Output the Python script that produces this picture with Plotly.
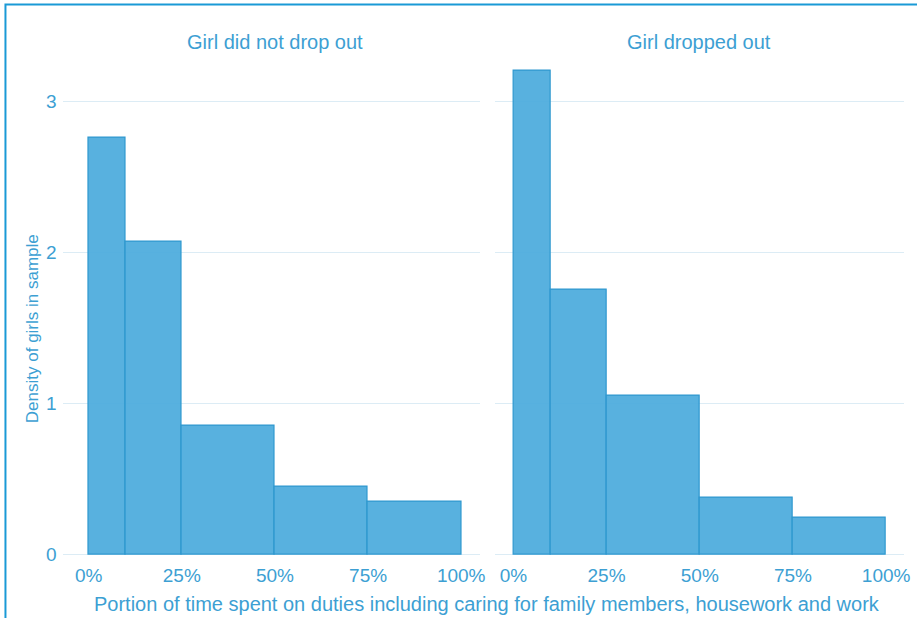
import plotly.graph_objects as go

bin_edges = [0.0, 0.10, 0.25, 0.50, 0.75, 1.00]
density_not_dropped = [2.76, 2.07, 0.85, 0.45, 0.35]
density_dropped = [3.20, 1.75, 1.05, 0.375, 0.245]
panel_titles = ["Girl did not drop out", "Girl dropped out"]
x_tick_vals = [0, 0.25, 0.5, 0.75, 1.0]
x_tick_text = ["0%", "25%", "50%", "75%", "100%"]
y_tick_vals = [0, 1, 2, 3]

W, H = 917, 618
TXT = "#3d9fd3"
FILL = "rgba(74,170,220,0.92)"
EDGE = "#2f98cf"
GRID = "#dcecf5"
FONT = "Liberation Sans, Arial, sans-serif"

mids = [(a + b) / 2 for a, b in zip(bin_edges[:-1], bin_edges[1:])]
widths = [b - a for a, b in zip(bin_edges[:-1], bin_edges[1:])]

fig = go.Figure()
for i, dens in enumerate([density_not_dropped, density_dropped]):
    fig.add_trace(go.Bar(
        x=mids, y=dens, width=widths,
        marker=dict(color=FILL, line=dict(color=EDGE, width=1.2)),
        xaxis="x" if i == 0 else "x2", yaxis="y" if i == 0 else "y2",
        showlegend=False, hoverinfo="skip"))

def px_x(p):
    return p / W

def px_y(p):
    return 1 - p / H

ydom = [px_y(565), px_y(59)]
yrange = [-0.05, 3.28]

common_x = dict(tickvals=x_tick_vals, ticktext=x_tick_text, showgrid=False,
                zeroline=False, showline=False, ticks="",
                tickfont=dict(family=FONT, size=19, color=TXT))
fig.update_layout(
    width=W, height=H, margin=dict(l=0, r=0, t=0, b=0),
    paper_bgcolor="white", plot_bgcolor="white", bargap=0,
    xaxis=dict(domain=[px_x(63), px_x(483)], range=[-0.07, 1.05],
               anchor="y", **common_x),
    xaxis2=dict(domain=[px_x(498), px_x(910)], range=[-0.05, 1.048],
                anchor="y2", **common_x),
    yaxis=dict(domain=ydom, range=yrange, tickvals=y_tick_vals,
               showgrid=True, gridcolor=GRID, gridwidth=1.2, zeroline=False,
               showline=False, ticks="", ticklabelstandoff=5,
               tickfont=dict(family=FONT, size=19, color=TXT), anchor="x"),
    yaxis2=dict(domain=ydom, range=yrange, tickvals=y_tick_vals,
                showgrid=True, gridcolor=GRID, gridwidth=1.2, zeroline=False,
                showline=False, showticklabels=False, ticks="", anchor="x2"),
    font=dict(family=FONT, color=TXT),
)

annotations = [
    dict(text=panel_titles[0], x=px_x(277), y=px_y(42)),
    dict(text=panel_titles[1], x=px_x(704), y=px_y(42)),
    dict(text="Portion of time spent on duties including caring for family members, housework and work",
         x=px_x(490), y=px_y(607)),
    dict(text="Density of girls in sample", x=px_x(33), y=px_y(330), textangle=-90),
]
sizes = [20, 20, 20, 17]
for a, s in zip(annotations, sizes):
    a.update(xref="paper", yref="paper", showarrow=False, xanchor="center",
             yanchor="middle", font=dict(family=FONT, size=s, color=TXT))
fig.update_layout(annotations=annotations)

fig.add_shape(type="rect", xref="paper", yref="paper",
              x0=px_x(5.5), x1=1.02, y0=-0.02, y1=px_y(4.5),
              line=dict(color="#1a9ad6", width=2), layer="above")

fig.write_html("out.html", config={"displayModeBar": False},
               post_script="document.body.style.margin='0';document.body.style.overflow='hidden';")
